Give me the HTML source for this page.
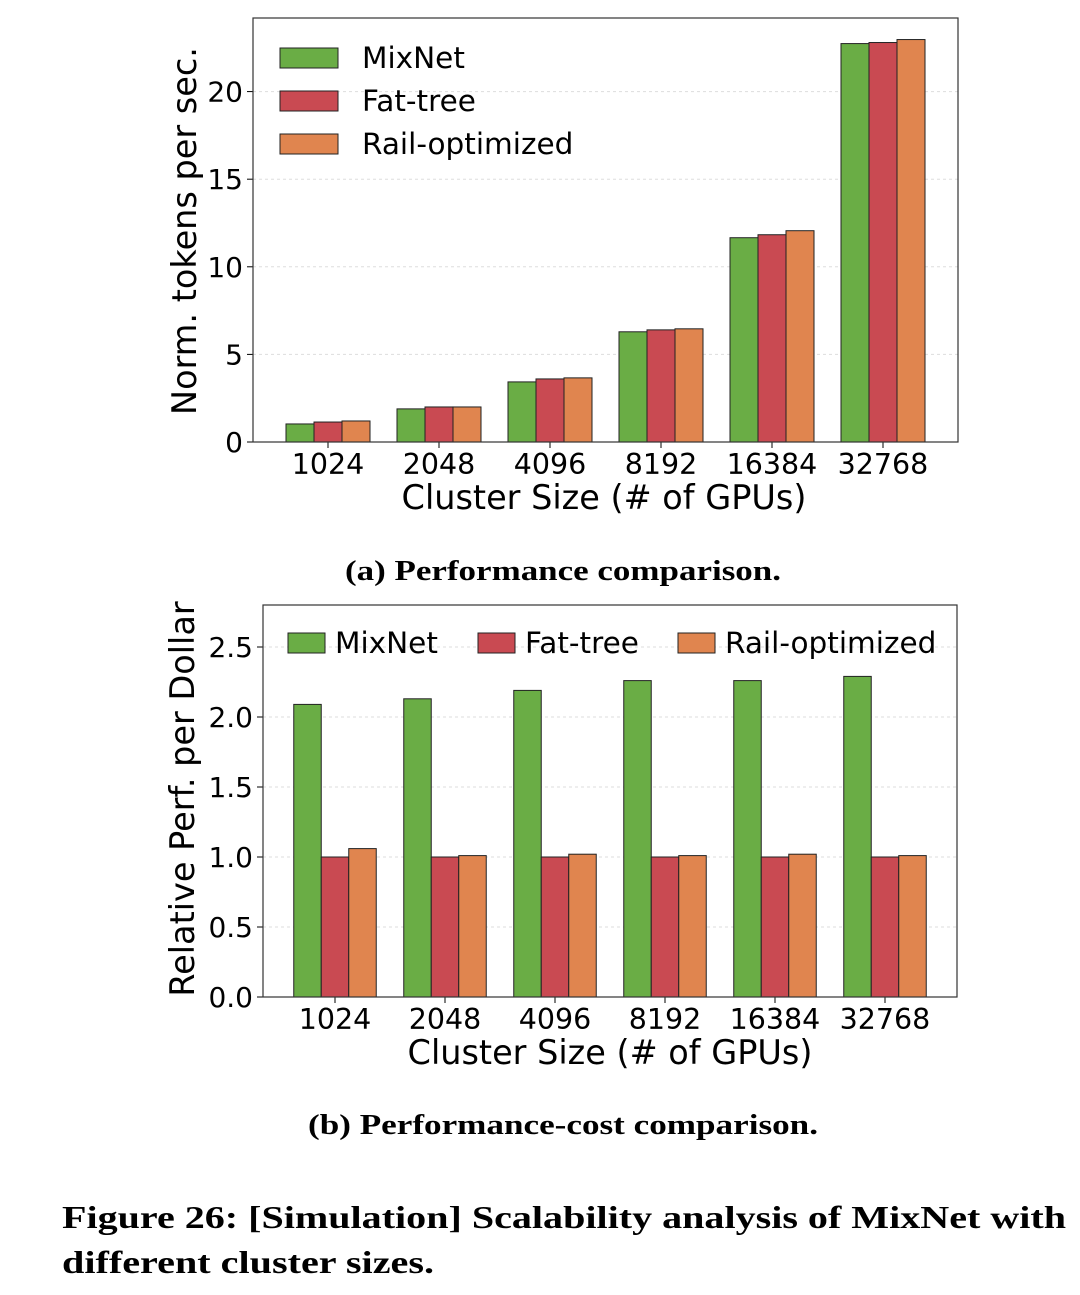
<!DOCTYPE html>
<html><head><meta charset="utf-8"><style>
body{margin:0;background:#fff;width:1080px;height:1295px;overflow:hidden}
svg{position:absolute;left:0;top:0}
</style></head><body>
<svg id="s" width="1080" height="1295" font-family="DejaVu Sans, Liberation Sans, sans-serif"></svg>
<script>
const categories=["1024","2048","4096","8192","16384","32768"];
const perfMixNet=[1.03,1.89,3.43,6.29,11.66,22.74];
const perfFatTree=[1.14,2.0,3.6,6.4,11.83,22.8];
const perfRail=[1.2,2.0,3.66,6.46,12.06,22.97];
const perfTicks=[0,5,10,15,20];
const costMixNet=[2.09,2.13,2.19,2.26,2.26,2.29];
const costFatTree=[1.0,1.0,1.0,1.0,1.0,1.0];
const costRail=[1.06,1.01,1.02,1.01,1.02,1.01];
const costTicks=[0.0,0.5,1.0,1.5,2.0,2.5];
const seriesNames=["MixNet","Fat-tree","Rail-optimized"];
const colors=["#6aad45","#c94a52","#e0854f"];
const NS="http://www.w3.org/2000/svg";
const s=document.getElementById('s');
function el(t,a,txt,p){const e=document.createElementNS(NS,t);for(const k in a)e.setAttribute(k,a[k]);if(txt!==undefined)e.textContent=txt;(p||s).appendChild(e);return e;}
function chart(o){
 const g=el('g',{});
 
 
 const y=v=>o.y0-(v/o.ymax)*(o.y0-o.top);
 const x=i=>o.c0+o.gs*i;
 o.ticks.forEach(t=>{
  if(t>0){el('line',{x1:o.left,x2:o.right,y1:y(t),y2:y(t),stroke:'#ddd','stroke-dasharray':'3,3'},undefined,g);}
  el('line',{x1:o.left-6,x2:o.left,y1:y(t),y2:y(t),stroke:'#000'},undefined,g);
  const tl=el('text',{x:o.left-10,y:y(t)+10,'text-anchor':'end','font-size':28},o.fmt(t),g);
  
  
 });
 const series=[o.a,o.b,o.c];
 series.forEach((arr,si)=>{arr.forEach((v,i)=>{
  const r=el('rect',{x:x(i)+(si-1.5)*o.bw,y:y(v),width:o.bw,height:o.y0-y(v),fill:colors[si],stroke:'#222','stroke-width':1},undefined,g);
  
  
 });});
 categories.forEach((c,i)=>{
  el('line',{x1:x(i),x2:x(i),y1:o.y0,y2:o.y0+6,stroke:'#000'},undefined,g);
  const t=el('text',{x:x(i),y:o.y0+32,'text-anchor':'middle','font-size':28.5},c,g);
  
  
 });
 el('rect',{x:o.left,y:o.top,width:o.right-o.left,height:o.y0-o.top,fill:'none',stroke:'#333','stroke-width':1.2},undefined,g);
 const xt=el('text',{x:o.xtx,y:o.y0+67,'text-anchor':'middle','font-size':33.5},'Cluster Size (# of GPUs)',g);
 
 
 const yt=el('text',{x:0,y:0,'text-anchor':'middle','font-size':33.5,transform:`translate(${o.ylx},${o.yly}) rotate(-90)`},o.ylabel,g);
 
 
 o.legend.forEach((p,si)=>{
  const lr=el('rect',{x:p[0],y:p[1],width:p[2],height:20,fill:colors[si],stroke:'#222'},undefined,g);
  
  
  const lt=el('text',{x:p[0]+p[2]+(p[3]||24),y:p[1]+20,'font-size':29.5},seriesNames[si],g);
  
  
 });
}
chart({name:'performance-chart',left:253,right:958,top:18,y0:442,ymax:24.2,c0:328,gs:111,bw:28,ticks:perfTicks,fmt:t=>String(t),a:perfMixNet,b:perfFatTree,c:perfRail,ylabel:'Norm. tokens per sec.',ylx:196,yly:231,xtx:604,
 legend:[[280,48,58],[280,91,58],[280,134,58]]});
chart({name:'cost-chart',left:263,right:957,top:605,y0:997,ymax:2.8,c0:335,gs:110,bw:27.5,ticks:costTicks,fmt:t=>t.toFixed(1),a:costMixNet,b:costFatTree,c:costRail,ylabel:'Relative Perf. per Dollar',ylx:194,yly:799,xtx:610,
 legend:[[288,633,37,10],[478,633,37,10],[678,633,37,10]]});
function cap(x,y,t,sz,anchor,len,name){const e=el('text',{x:x,y:y,'font-family':'Liberation Serif, serif','font-weight':'bold','font-size':sz,'text-anchor':anchor,textLength:len,lengthAdjust:'spacingAndGlyphs'},t);
 
 }
cap(345,580,'(a) Performance comparison.',29,'start',436,'caption-a');
cap(308,1134,'(b) Performance-cost comparison.',29,'start',510,'caption-b');
cap(62,1228,'Figure 26: [Simulation] Scalability analysis of MixNet with',32,'start',1004,'figure-caption-line1');
cap(62,1273,'different cluster sizes.',32,'start',372,'figure-caption-line2');
</script>
</body></html>
